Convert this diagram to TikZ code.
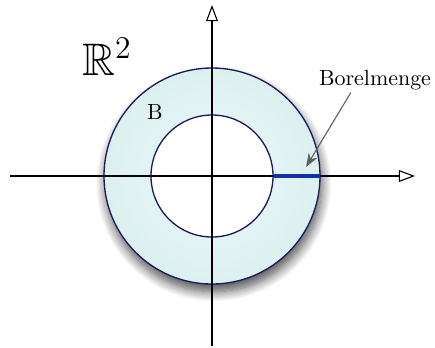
\documentclass[tikz,border=0pt]{standalone}
\usepackage{amsmath,amssymb}
\usetikzlibrary{arrows.meta,positioning,shadows.blur}
\definecolor{ringFill}{HTML}{DCF0F0}
\definecolor{ringCore}{HTML}{EEF8F8}
\definecolor{ringEdge}{HTML}{1A1A5C}
\definecolor{setBlue}{HTML}{1030A8}
\definecolor{ptrGray}{HTML}{606060}
\tikzset{
  axis/.style    ={-{Triangle[open,length=2.6mm,width=1.9mm]},black,line width=0.5pt},
  ring/.style    ={draw=ringEdge,line width=0.6pt,inner color=ringCore,outer color=ringFill,
                   blur shadow={shadow xshift=0.8pt,shadow yshift=-3.5pt,shadow blur radius=4.5pt,
                                shadow blur steps=12,shadow opacity=70}},
  hole/.style    ={draw=ringEdge,line width=0.6pt,fill=white},
  borel/.style   ={setBlue,line width=1.5pt},
  pointer/.style ={-{Stealth[length=2.2mm,width=1.6mm]},ptrGray,line width=0.5pt},
  lbl/.style     ={font=\normalsize,inner sep=1pt},
}
\begin{document}
\begin{tikzpicture}[x=0.016cm,y=0.016cm]
\useasboundingbox (-212,-171) rectangle (223,176);
% the set B: annulus
\path[ring] (0,0) circle[radius=108];
\draw[hole] (0,0) circle[radius=61];
% axes
\coordinate (xl) at (-202,0);
\coordinate (xr) at (203,0);
\coordinate (yb) at (0,-170);
\coordinate (yt) at (0,171);
\draw[axis] (xl) -- (xr);
\draw[axis] (yb) -- (yt);
% Borel set on the positive x-axis
\coordinate (b1) at (62,0);
\coordinate (b2) at (108,0);
\draw[borel] (b1) -- (b2);
% labels
\node[lbl,font=\huge] (plane) at (-105,119) {$\mathbb{R}^2$};
\node[lbl] (setB) at (-57,64) {B};
\node[lbl] (borelLbl) at (163,96) {Borelmenge};
\coordinate (tipB) at (94,9);
\draw[pointer] ([xshift=-11pt]borelLbl.south) -- (tipB);
\end{tikzpicture}
\end{document}
